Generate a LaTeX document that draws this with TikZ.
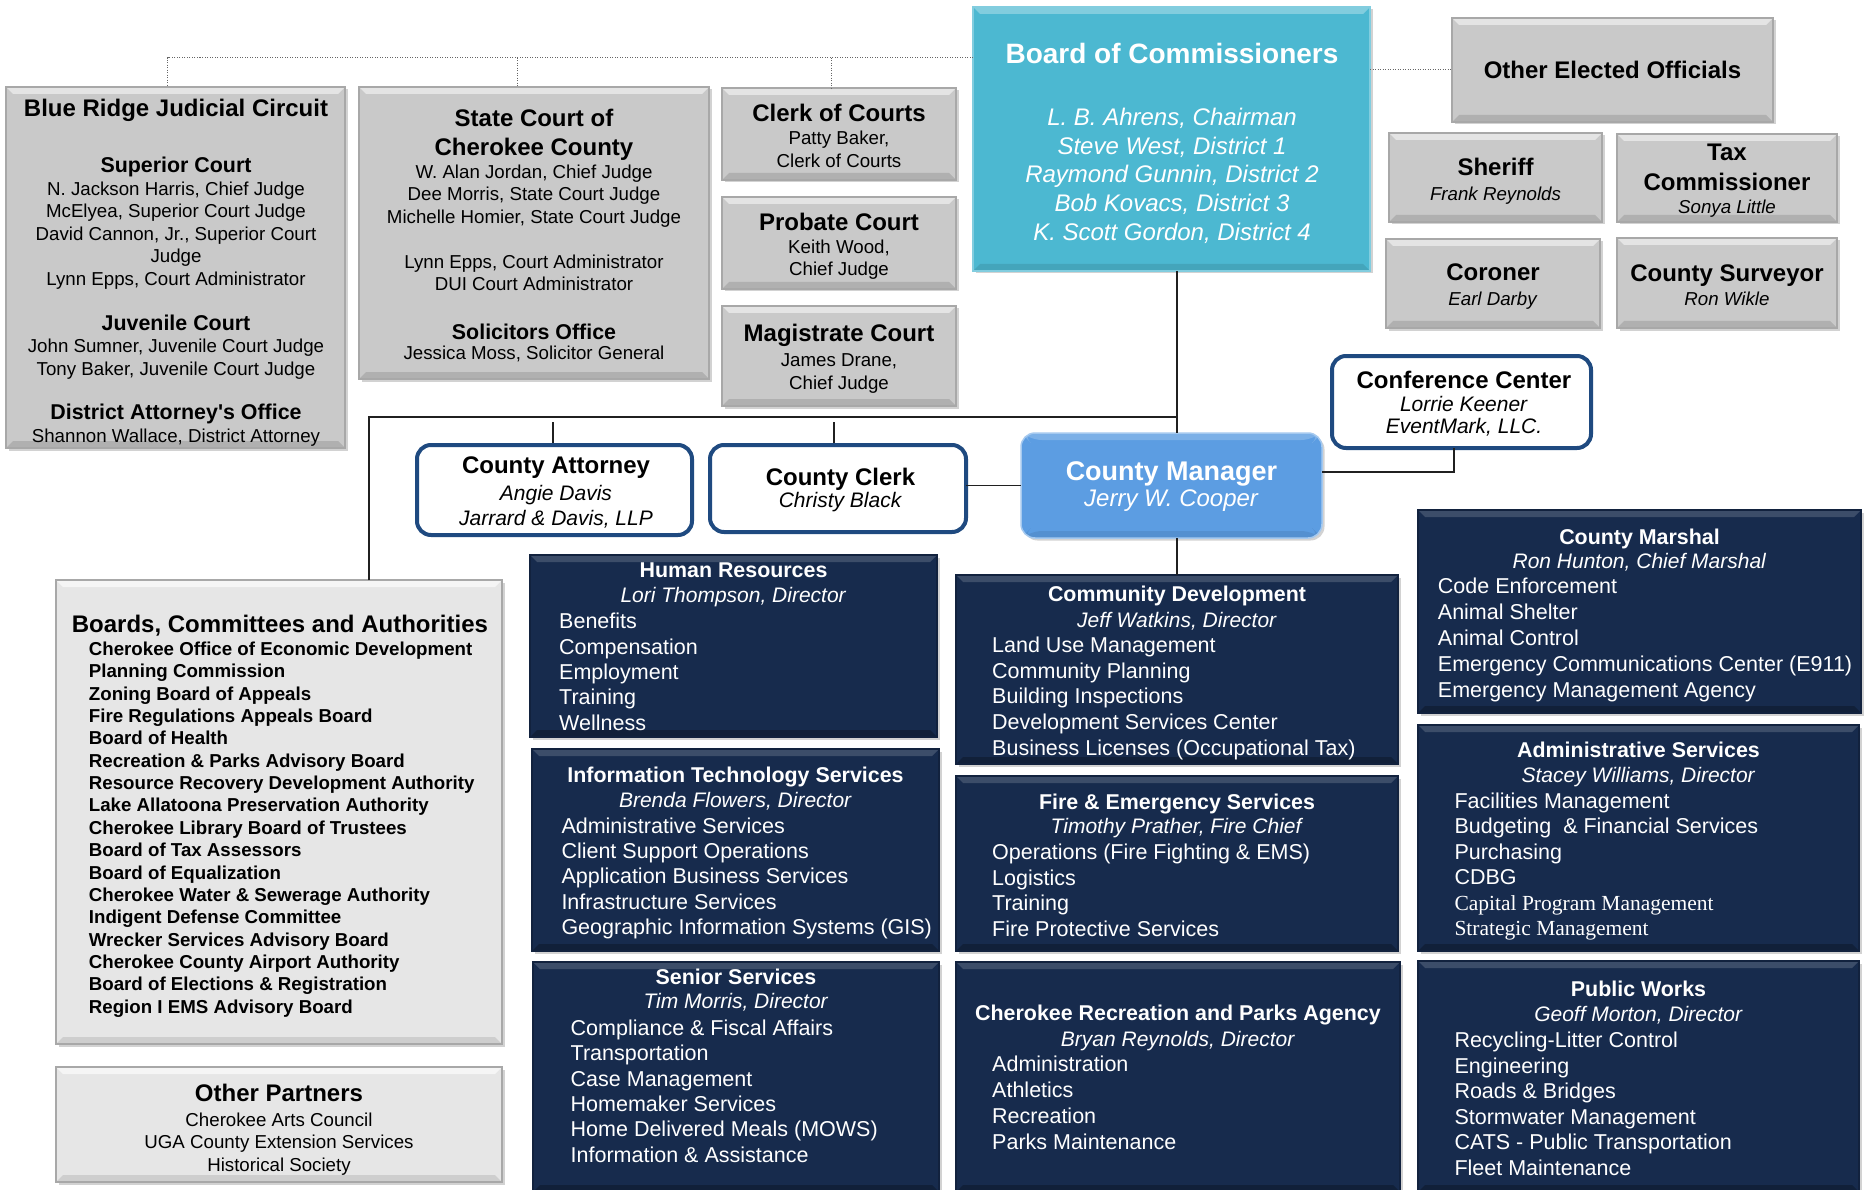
\documentclass[tikz,border=0pt]{standalone}
\usepackage{fontspec}
\setmainfont{Liberation Sans}
\newfontfamily\serifx{Liberation Serif}
\usetikzlibrary{shadows}
\definecolor{cGray}{HTML}{C9C9C9}
\definecolor{cGrayEdge}{HTML}{A8A8A8}
\definecolor{cLight}{HTML}{E6E6E6}
\definecolor{cBoC}{HTML}{4CB8D1}
\definecolor{cCM}{HTML}{5C9DE2}
\definecolor{cNavy}{HTML}{172B4D}
\definecolor{cBlueLine}{HTML}{1F4A80}
\definecolor{cLine}{HTML}{202020}
\newcommand{\fsz}[2]{\fontsize{#1}{#2}\selectfont}
\newcommand{\hdr}[1]{{\bfseries\fontsize{24}{24}\selectfont #1}}
\newcommand{\hdrm}[1]{{\bfseries\fontsize{21.4}{21.4}\selectfont #1}}
\newcommand{\hdrs}[1]{{\bfseries\fontsize{21.4}{21.4}\selectfont #1}}
\newcommand{\bx}[7]{\node[#1, minimum width={#4-#2}, minimum height={#5-#3}] (#6) at (#2,#3) {#7};}
\tikzset{
  box/.style={inner sep=0pt, outer sep=0pt, anchor=north west},
  bev/.style 2 args={path picture={
     \fill[#1] (path picture bounding box.north west) -- (path picture bounding box.north east)
        -- ([xshift=-7pt,yshift=-7pt]path picture bounding box.north east)
        -- ([xshift=7pt,yshift=-7pt]path picture bounding box.north west) -- cycle;
     \fill[#2] (path picture bounding box.south west) -- (path picture bounding box.south east)
        -- ([xshift=-7pt,yshift=7pt]path picture bounding box.south east)
        -- ([xshift=7pt,yshift=7pt]path picture bounding box.south west) -- cycle;}},
  shad/.style={drop shadow={shadow xshift=2.5pt, shadow yshift=-2.5pt, opacity=0.35}},
  graybox/.style={box, fill=cGray, draw=cGrayEdge, line width=1.2pt, shad,
     bev={white,opacity=0.5}{black,opacity=0.12}},
  lightbox/.style={box, fill=cLight, draw=cGrayEdge, line width=1.2pt, shad,
     bev={white,opacity=0.6}{black,opacity=0.10}},
  bocbox/.style={box, fill=cBoC, draw=cBoC!70!white, line width=1.2pt, shad,
     bev={white,opacity=0.3}{black,opacity=0.10}},
  cmbox/.style={box, fill=cCM, draw=cCM!55!white, line width=1.5pt, rounded corners=14pt, shad,
     bev={white,opacity=0.2}{black,opacity=0.08}},
  wbox/.style={box, fill=white, draw=cBlueLine, line width=4pt, rounded corners=14pt},
  navybox/.style={box, fill=cNavy, draw=cNavy!80!black, line width=1.2pt, shad,
     bev={white,opacity=0.16}{black,opacity=0.25}},
  txt/.style={inner sep=0pt, align=center, anchor=north},
  txtl/.style={inner sep=0pt, align=left, anchor=north west},
  wtxt/.style={txt, text=white},
  wtxtl/.style={txtl, text=white},
  conn/.style={draw=cLine, line width=1.2pt},
  dotc/.style={draw=black!60, line width=1pt, dash pattern=on 1pt off 1.5pt},
}
\begin{document}
\begin{tikzpicture}[x=1pt,y=-1pt]
\fill[white] (0,0) rectangle (1866,1190);
\useasboundingbox (0,0) rectangle (1866,1190);

% ---------- boxes ----------
\bx{graybox}{6}{87}{345}{448}{brjc}{}
\bx{graybox}{359}{87}{709}{379}{sc}{}
\bx{graybox}{722}{88}{956}{180}{clk}{}
\bx{graybox}{722}{197}{956}{289}{prb}{}
\bx{graybox}{722}{306}{956}{406}{mag}{}
\bx{bocbox}{973}{7}{1370}{271}{boc}{}
\bx{graybox}{1452}{18}{1773}{122}{oeo}{\hdr{Other Elected Officials}}
\bx{graybox}{1389}{133}{1602}{222}{shf}{}
\bx{graybox}{1617}{134}{1837}{222}{tax}{}
\bx{graybox}{1386}{239}{1600}{328}{cor}{}
\bx{graybox}{1617}{238}{1837}{328}{srv}{}
\bx{wbox}{1332}{356}{1591}{448}{conf}{}
\bx{wbox}{417}{445}{692}{535}{ca}{}
\bx{wbox}{710}{445}{966}{532}{cc}{}
\bx{cmbox}{1021}{433}{1322}{538}{cm}{}
\bx{navybox}{530}{555}{937}{737}{hr}{}
\bx{navybox}{956}{575}{1398}{764}{cd}{}
\bx{navybox}{1418}{510}{1861}{713}{msh}{}
\bx{navybox}{532}{749}{939}{951}{it}{}
\bx{navybox}{956}{776}{1398}{951}{fire}{}
\bx{navybox}{1418}{725}{1859}{951}{adm}{}
\bx{navybox}{533}{962}{939}{1192}{sen}{}
\bx{navybox}{956}{962}{1400}{1192}{rec}{}
\bx{navybox}{1418}{961}{1859}{1192}{pw}{}
\bx{lightbox}{56}{580}{502}{1044}{bca}{}
\bx{lightbox}{56}{1067}{502}{1182}{op}{}

% ---------- connectors ----------
\coordinate (dtop) at (0,57.7);
\coordinate (stem) at (1177,0);
\coordinate (hl) at (369,417);
\draw[dotc] (boc.west |- dtop) -| ([xshift=-8pt]brjc.north);
\draw[dotc] ([xshift=-16.5pt]sc.north |- dtop) -- ([xshift=-16.5pt]sc.north);
\draw[dotc] ([xshift=-8pt]clk.north |- dtop) -- ([xshift=-8pt]clk.north);
\draw[dotc] (boc.east |- oeo.west) -- (oeo.west);
\draw[conn] (boc.south -| stem) -- (cm.north -| stem);
\draw[conn] (bca.north -| hl) -- (hl) -- (stem |- hl);
\draw[conn] ([xshift=-1.5pt,yshift=2pt]ca.north) -- ++(0,-21);
\draw[conn] ([xshift=-4pt,yshift=2pt]cc.north) -- ++(0,-21);
\draw[conn] (cc.east |- cm.west) -- (cm.west);
\draw[conn] ([yshift=13.5pt]cm.east) -| ([xshift=-7.5pt]conf.south);
\draw[conn] (cm.south -| stem) -- (cd.north -| stem);

% ---------- texts: courts ----------
\node[txt, font={\fsz{18.7}{22.5}}] (brjcT) at (176,99.1) {\hdr{Blue Ridge Judicial Circuit}\\[33.5pt]
 \hdrm{Superior Court}\\ N. Jackson Harris, Chief Judge\\ McElyea, Superior Court Judge\\
 David Cannon, Jr., Superior Court\\ Judge\\ Lynn Epps, Court Administrator\\[22.4pt]
 \hdrm{Juvenile Court}\\ John Sumner, Juvenile Court Judge\\ Tony Baker, Juvenile Court Judge\\[22.4pt]
 \hdrm{District Attorney\textquotesingle s Office}\\ Shannon Wallace, District Attorney};
\node[txt, font={\fsz{18.7}{22.5}}] (scT) at (534,109.1) {\hdr{State Court of}\\[6.5pt]
 \hdr{Cherokee County}\\ W. Alan Jordan, Chief Judge\\ Dee Morris, State Court Judge\\
 Michelle Homier, State Court Judge\\[22.5pt] Lynn Epps, Court Administrator\\
 DUI Court Administrator\\[26.5pt] \hdrm{Solicitors Office}\\[-2.4pt] Jessica Moss, Solicitor General};
\node[txt, font={\fsz{18.7}{23}}] (clkT) at (839,104.1) {\hdr{Clerk of Courts}\\ Patty Baker,\\ Clerk of Courts};
\node[txt, font={\fsz{18.7}{22.5}}] (prbT) at (839,213.1) {\hdr{Probate Court}\\ Keith Wood,\\ Chief Judge};
\node[txt, font={\fsz{18.7}{22.5}}] (magT) at (839,324.1) {\hdr{Magistrate Court}\\[2.5pt] James Drane,\\ Chief Judge};

% ---------- board and elected ----------
\node[wtxt, font={\fsz{24}{28.6}\itshape}] (bocT) at (1172,42.9) {{\upshape\bfseries\fontsize{28}{28}\selectfont Board of Commissioners}\\[33.8pt]
 L. B. Ahrens, Chairman\\ Steve West, District 1\\ Raymond Gunnin, District 2\\ Bob Kovacs, District 3\\ K. Scott Gordon, District 4};
\node[txt, font={\fsz{18.7}{25.5}}] (shfT) at (1495.5,157.8) {\hdr{Sheriff}\\ \textit{Frank Reynolds}};
\node[txt, font={\fsz{18.7}{23.2}}] (taxT) at (1727,143.8) {\hdr{Tax}\\[6.8pt] \hdr{Commissioner}\\ \textit{Sonya Little}};
\node[txt, font={\fsz{18.7}{24.5}}] (corT) at (1493,263.8) {\hdr{Coroner}\\ \textit{Earl Darby}};
\node[txt, font={\fsz{18.7}{23.8}}] (srvT) at (1727,264.4) {\hdr{County Surveyor}\\ \textit{Ron Wikle}};

% ---------- manager level ----------
\node[txt, font={\fsz{21}{22.4}}] (confT) at (1464,371.1) {\hdr{Conference Center}\\ \textit{Lorrie Keener}\\ \textit{EventMark, LLC.}};
\node[txt, font={\fsz{21}{25}}] (caT) at (556,456.1) {\hdr{County Attorney}\\[2.4pt] \textit{Angie Davis}\\ \textit{Jarrard \& Davis, LLP}};
\node[txt, font={\fsz{21}{21.8}}] (ccT) at (840.5,468.4) {\hdr{County Clerk}\\ \textit{Christy Black}};
\node[wtxt, font={\fsz{24}{25.5}}] (cmT) at (1171.5,461.7) {{\bfseries\fontsize{27}{27}\selectfont County Manager}\\ \textit{Jerry W. Cooper}};

% ---------- departments ----------
\node[wtxt, font={\fsz{21}{25.2}}] (hrT) at (733.5,562.1) {\hdrs{Human Resources}\\ \textit{Lori Thompson, Director}};
\node[wtxtl, font={\fsz{21.5}{25.4}}] (hrL) at (559,613) {Benefits\\ Compensation\\ Employment\\ Training\\ Wellness};

\node[wtxt, font={\fsz{21}{25.7}}] (cdT) at (1177,586.1) {\hdrs{Community Development}\\ \textit{Jeff Watkins, Director}};
\node[wtxtl, font={\fsz{21.5}{25.7}}] (cdL) at (992,636.7) {Land Use Management\\ Community Planning\\ Building Inspections\\ Development Services Center\\ Business Licenses (Occupational Tax)};

\node[wtxt, font={\fsz{21}{25.8}}] (itT) at (735.5,766.4) {\hdrs{Information Technology Services}\\ \textit{Brenda Flowers, Director}};
\node[wtxtl, font={\fsz{21.5}{25.4}}] (itL) at (561.3,817.4) {Administrative Services\\ Client Support Operations\\ Application Business Services\\ Infrastructure Services\\ Geographic Information Systems (GIS)};

\node[wtxt, font={\fsz{21}{24.8}}] (fireT) at (1177,793.4) {\hdrs{Fire \& Emergency Services}\\ \textit{Timothy Prather, Fire Chief}};
\node[wtxtl, font={\fsz{21.5}{25.6}}] (fireL) at (992,844) {Operations (Fire Fighting \& EMS)\\ Logistics\\ Training\\ Fire Protective Services};

\node[wtxt, font={\fsz{21}{24.8}}] (senT) at (736,968.4) {\hdrs{Senior Services}\\ \textit{Tim Morris, Director}};
\node[wtxtl, font={\fsz{21.5}{25.46}}] (senL) at (570.5,1019.3) {Compliance \& Fiscal Affairs\\ Transportation\\ Case Management\\ Homemaker Services\\ Home Delivered Meals (MOWS)\\ Information \& Assistance};

\node[wtxt, font={\fsz{21}{25.3}}] (recT) at (1178,1005.2) {\hdrs{Cherokee Recreation and Parks Agency}\\ \textit{Bryan Reynolds, Director}};
\node[wtxtl, font={\fsz{21.5}{25.7}}] (recL) at (992,1056.2) {Administration\\ Athletics\\ Recreation\\ Parks Maintenance};

\node[wtxt, font={\fsz{21}{24.2}}] (mshT) at (1639.5,528.3) {\hdrs{County Marshal}\\ \textit{Ron Hunton, Chief Marshal}};
\node[wtxtl, font={\fsz{21.5}{25.9}}] (mshL) at (1437.7,578) {Code Enforcement\\ Animal Shelter\\ Animal Control\\ Emergency Communications Center (E911)\\ Emergency Management Agency};

\node[wtxt, font={\fsz{21}{24.6}}] (admT) at (1638.5,741.8) {\hdrs{Administrative Services}\\ \textit{Stacey Williams, Director}};
\node[wtxtl, font={\fsz{21.5}{25.5}}] (admL) at (1454.3,792.4) {Facilities Management\\ Budgeting\ \ \& Financial Services\\ Purchasing\\ CDBG\\ {\serifx Capital Program Management}\\ {\serifx Strategic Management}};

\node[wtxt, font={\fsz{21}{25}}] (pwT) at (1638.5,980.8) {\hdrs{Public Works}\\ \textit{Geoff Morton, Director}};
\node[wtxtl, font={\fsz{21.5}{25.5}}] (pwL) at (1454.3,1032.2) {Recycling-Litter Control\\ Engineering\\ Roads \& Bridges\\ Stormwater Management\\ CATS - Public Transportation\\ Fleet Maintenance};

% ---------- boards and partners ----------
\node[txtl, font={\bfseries\fsz{24}{24}}] (bcaT) at (71.7,614.6) {Boards, Committees and Authorities};
\node[txtl, font={\bfseries\fsz{18.7}{22.38}}] (bcaL) at (88.7,641.5) {Cherokee Office of Economic Development\\ Planning Commission\\ Zoning Board of Appeals\\
 Fire Regulations Appeals Board\\ Board of Health\\ Recreation \& Parks Advisory Board\\ Resource Recovery Development Authority\\
 Lake Allatoona Preservation Authority\\ Cherokee Library Board of Trustees\\ Board of Tax Assessors\\ Board of Equalization\\
 Cherokee Water \& Sewerage Authority\\ Indigent Defense Committee\\ Wrecker Services Advisory Board\\
 Cherokee County Airport Authority\\ Board of Elections \& Registration\\ Region I EMS Advisory Board};
\node[txt, font={\fsz{18.7}{22.5}}] (opT) at (279,1084.1) {\hdr{Other Partners}\\[2pt] Cherokee Arts Council\\ UGA County Extension Services\\ Historical Society};
\end{tikzpicture}
\end{document}
